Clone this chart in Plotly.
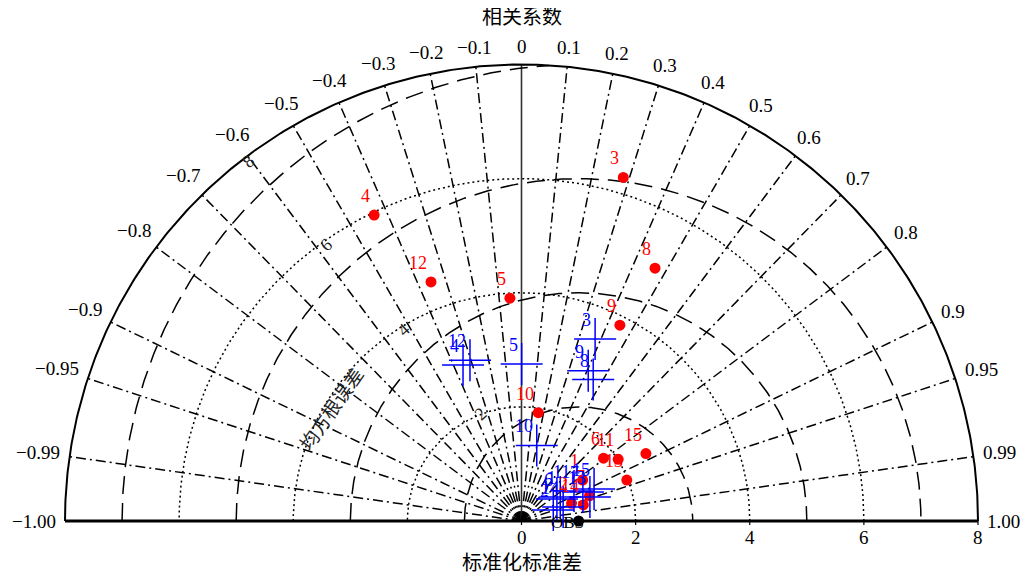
import numpy as np
import plotly.graph_objects as go

# ---------------- data ----------------
point_labels = [str(i) for i in range(1, 16)]
red_std = [1.29, 0.93, 6.28, 5.95, 3.91, 1.81, 1.27, 5.01, 3.84, 1.92, 2.01, 4.48, 1.98, 1.12, 2.48]
red_corr = [0.831, 0.943, 0.284, -0.434, -0.052, 0.794, 0.938, 0.467, 0.449, 0.153, 0.843, -0.354, 0.932, 0.968, 0.879]
blue_std = [0.80, 0.59, 3.44, 2.92, 2.75, 0.73, 1.19, 2.78, 2.88, 1.35, 1.06, 2.96, 1.27, 0.77, 1.39]
blue_corr = [0.849, 0.944, 0.375, -0.351, 0.001, 0.850, 0.904, 0.452, 0.406, 0.198, 0.868, -0.305, 0.944, 0.948, 0.915]
obs_std = 1.0

corr_ticks = [-1.0, -0.99, -0.95, -0.9, -0.8, -0.7, -0.6, -0.5, -0.4, -0.3, -0.2, -0.1, 0.0,
              0.1, 0.2, 0.3, 0.4, 0.5, 0.6, 0.7, 0.8, 0.9, 0.95, 0.99, 1.0]
corr_tick_text = ["−1.00", "−0.99", "−0.95", "−0.9", "−0.8", "−0.7", "−0.6", "−0.5", "−0.4", "−0.3",
                  "−0.2", "−0.1", "0", "0.1", "0.2", "0.3", "0.4", "0.5", "0.6", "0.7", "0.8",
                  "0.9", "0.95", "0.99", "1.00"]
std_ticks = [0, 2, 4, 6, 8]
std_arcs = [2, 4, 6]
rms_levels = [2, 4, 6, 8]
std_max = 8.0

# ---------------- layout geometry ----------------
W, H = 1029, 579
PX = 913 / (2 * std_max)          # pixels per unit
OX, OY = 513.5, 513               # origin position inside the figure (pixels)
xmin, xmax = -OX / PX, (W - OX) / PX
ymax, ymin = OY / PX, -(H - OY) / PX

SERIF = "Liberation Serif, Times New Roman, serif"
CJK = "Liberation Serif, Noto Sans CJK SC, serif"

fig = go.Figure()

def add_line(x, y, dash="solid", width=1.5, color="black"):
    fig.add_trace(go.Scatter(x=x, y=y, mode="lines", hoverinfo="skip", showlegend=False,
                             line=dict(color=color, width=width, dash=dash)))

# radial correlation lines
for c in corr_ticks:
    if abs(c) == 1.0:
        continue
    th = np.arccos(c)
    if c == 0:
        add_line([0, 0], [0, std_max], "solid", 1.6, "#333333")
    else:
        add_line([0, std_max * np.cos(th)], [0, std_max * np.sin(th)], "10px,4px,2px,4px", 1.5)

# std arcs (dotted, centred at origin)
t = np.linspace(0, np.pi, 400)
for r in std_arcs:
    add_line(r * np.cos(t), r * np.sin(t), "2px,3px", 1.5)

# RMSD circles (dashed, centred at OBS), clipped to the outer semicircle
for R in rms_levels:
    a = np.linspace(np.pi, 0, 600)
    x = obs_std + R * np.cos(a)
    y = R * np.sin(a)
    mask = np.hypot(x, y) <= std_max + 1e-9
    x = np.where(mask, x, np.nan)
    y = np.where(mask, y, np.nan)
    add_line(x, y, "18px,9px", 1.5)

# outer arc and axis
add_line(std_max * np.cos(t), std_max * np.sin(t), "solid", 2)
add_line([-std_max, std_max], [0, 0], "solid", 3)
for s in std_ticks:
    add_line([s, s], [0, -0.07], "solid", 1.2)

# red points
rth = np.arccos(red_corr)
rx = np.array(red_std) * np.cos(rth)
ry = np.array(red_std) * np.sin(rth)
fig.add_trace(go.Scatter(x=rx, y=ry, mode="markers", showlegend=False,
                         marker=dict(color="#ff0000", size=11, line=dict(width=0))))
# blue crosses
bth = np.arccos(blue_corr)
bx = np.array(blue_std) * np.cos(bth)
by = np.array(blue_std) * np.sin(bth)
fig.add_trace(go.Scatter(x=bx, y=by, mode="markers", showlegend=False,
                         marker=dict(symbol="cross-thin", size=30,
                                     line=dict(color="#0000ff", width=1.5))))
# OBS
fig.add_trace(go.Scatter(x=[obs_std], y=[0], mode="markers", showlegend=False,
                         marker=dict(color="black", size=11)))

ann = []
# point labels
for lab, x, y in zip(point_labels, rx, ry):
    ann.append(dict(x=x, y=y, text=lab, showarrow=False, xanchor="right", yanchor="middle",
                    xshift=-2, yshift=19, font=dict(family=SERIF, size=18, color="#ff0000")))
for lab, x, y in zip(point_labels, bx, by):
    ann.append(dict(x=x, y=y, text=lab, showarrow=False, xanchor="right", yanchor="middle",
                    xshift=-2, yshift=19, font=dict(family=SERIF, size=18, color="#0000ff")))
ann.append(dict(x=obs_std, y=0, text="OBS", showarrow=False, xanchor="center", yanchor="middle",
                xshift=-11, yshift=-1, font=dict(family=SERIF, size=17, color="black")))

# correlation tick labels
def text_w(s):
    return sum(9.5 if ch.isdigit() else 4.75 if ch == "." else 10.7 for ch in s)

for c, s in zip(corr_ticks, corr_tick_text):
    th = np.arccos(c)
    hw = text_w(s) / 2 / PX
    hh = 9.5 / PX
    r = std_max + 0.15 + hw * abs(np.cos(th)) + hh * abs(np.sin(th))
    ann.append(dict(x=r * np.cos(th), y=r * np.sin(th), text=s, showarrow=False,
                    xanchor="center", yanchor="middle",
                    font=dict(family=SERIF, size=19, color="black")))

# std tick labels
for s in std_ticks:
    ann.append(dict(x=s, y=-16 / PX, text=str(s), showarrow=False, xanchor="center", yanchor="middle",
                    font=dict(family=SERIF, size=19, color="black")))

# RMSD labels
ang = np.deg2rad(132.5)
for R in rms_levels:
    rr = R + 0.55
    ann.append(dict(x=obs_std + rr * np.cos(ang), y=rr * np.sin(ang), text=str(R), showarrow=False,
                    xanchor="center", yanchor="middle", textangle=-42,
                    font=dict(family=SERIF, size=18, color="#222222")))
ang2 = np.deg2rad(155.6)
ann.append(dict(x=obs_std + 4.75 * np.cos(ang2), y=4.75 * np.sin(ang2), text="均方根误差",
                showarrow=False, xanchor="center", yanchor="middle", textangle=-55,
                font=dict(family=CJK, size=19, color="#222222")))

# titles
ann.append(dict(x=0, y=(OY - 9) / PX, text="相关系数", showarrow=False,
                xanchor="center", yanchor="middle", font=dict(family=CJK, size=20, color="black")))
ann.append(dict(x=0, y=-42 / PX, text="标准化标准差", showarrow=False,
                xanchor="center", yanchor="middle", font=dict(family=CJK, size=20, color="black")))

fig.update_layout(
    width=W, height=H,
    margin=dict(l=0, r=0, t=0, b=0, autoexpand=False),
    paper_bgcolor="white", plot_bgcolor="white",
    xaxis=dict(range=[xmin, xmax], visible=False, showgrid=False, zeroline=False),
    yaxis=dict(range=[ymin, ymax], visible=False, showgrid=False, zeroline=False),
    annotations=ann,
    showlegend=False,
)

fig.write_html("out.html")
